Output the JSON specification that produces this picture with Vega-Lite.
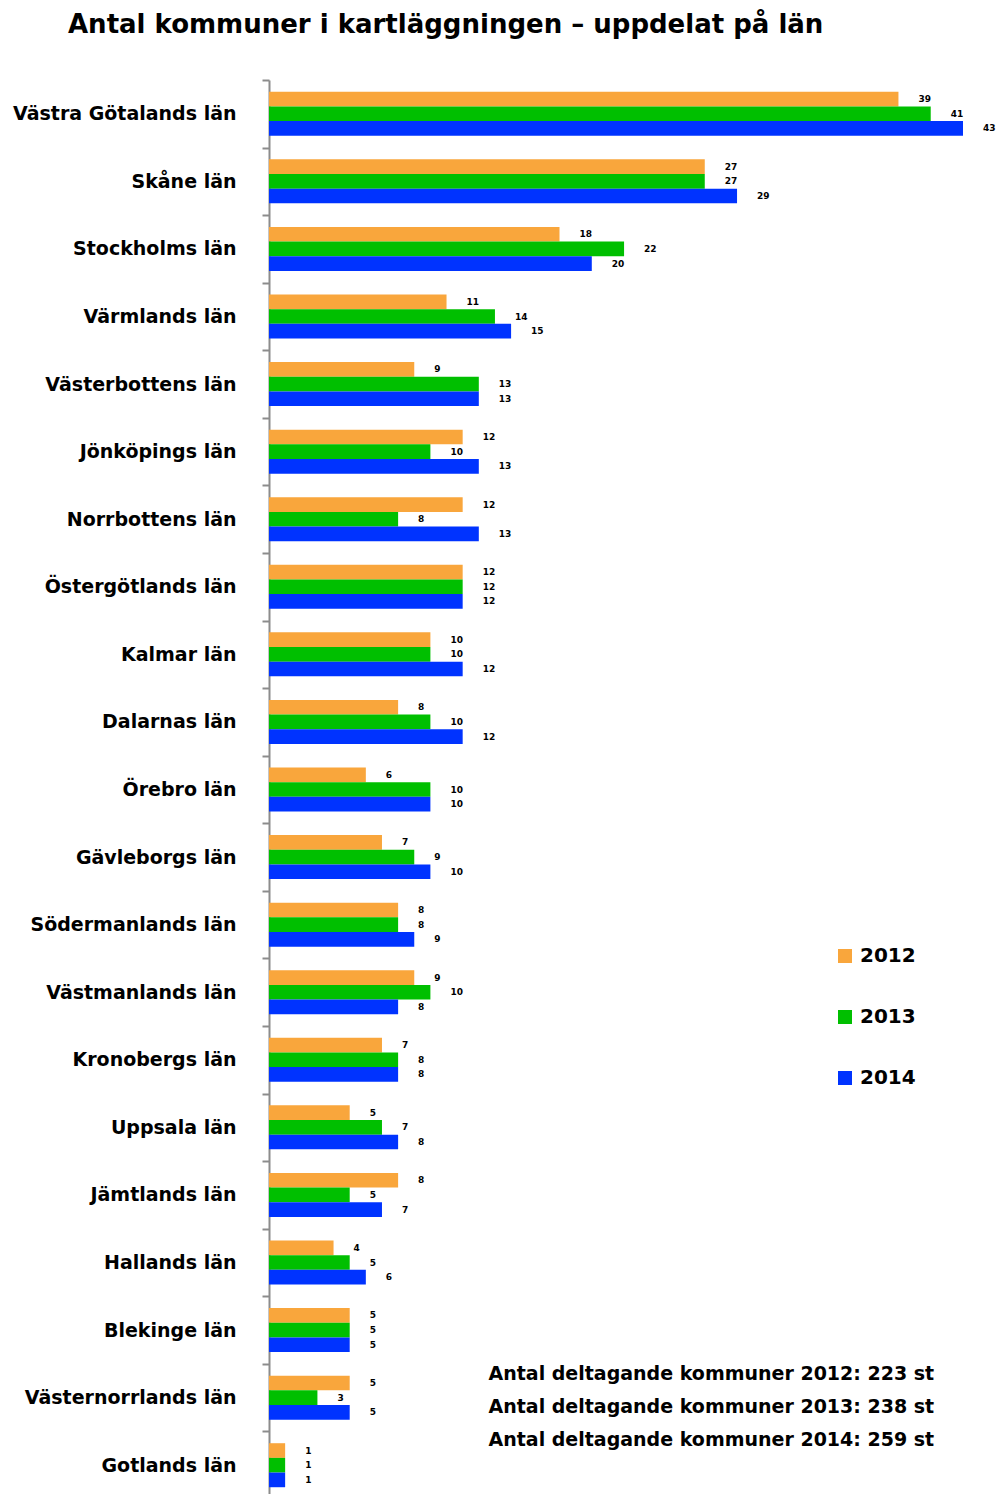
{
  "$schema": "https://vega.github.io/schema/vega-lite/v6.json",
  "autosize": {"type": "none"},
  "padding": {"left": 269, "top": 80, "right": 33, "bottom": 0},
  "width": 694,
  "height": 1419,
  "background": "white",
  "config": {
    "view": {"stroke": null},
    "font": "DejaVu Sans"
  },
  "title": {
    "text": "Antal kommuner i kartläggningen – uppdelat på län",
    "anchor": "start",
    "frame": "group",
    "dx": -201,
    "offset": 33,
    "fontSize": 26,
    "fontWeight": "bold",
    "color": "black",
    "font": "DejaVu Sans"
  },
  "datasets": {
    "main": [
      {"lan": "Västra Götalands län", "year": "2012", "n": 39},
      {"lan": "Västra Götalands län", "year": "2013", "n": 41},
      {"lan": "Västra Götalands län", "year": "2014", "n": 43},
      {"lan": "Skåne län", "year": "2012", "n": 27},
      {"lan": "Skåne län", "year": "2013", "n": 27},
      {"lan": "Skåne län", "year": "2014", "n": 29},
      {"lan": "Stockholms län", "year": "2012", "n": 18},
      {"lan": "Stockholms län", "year": "2013", "n": 22},
      {"lan": "Stockholms län", "year": "2014", "n": 20},
      {"lan": "Värmlands län", "year": "2012", "n": 11},
      {"lan": "Värmlands län", "year": "2013", "n": 14},
      {"lan": "Värmlands län", "year": "2014", "n": 15},
      {"lan": "Västerbottens län", "year": "2012", "n": 9},
      {"lan": "Västerbottens län", "year": "2013", "n": 13},
      {"lan": "Västerbottens län", "year": "2014", "n": 13},
      {"lan": "Jönköpings län", "year": "2012", "n": 12},
      {"lan": "Jönköpings län", "year": "2013", "n": 10},
      {"lan": "Jönköpings län", "year": "2014", "n": 13},
      {"lan": "Norrbottens län", "year": "2012", "n": 12},
      {"lan": "Norrbottens län", "year": "2013", "n": 8},
      {"lan": "Norrbottens län", "year": "2014", "n": 13},
      {"lan": "Östergötlands län", "year": "2012", "n": 12},
      {"lan": "Östergötlands län", "year": "2013", "n": 12},
      {"lan": "Östergötlands län", "year": "2014", "n": 12},
      {"lan": "Kalmar län", "year": "2012", "n": 10},
      {"lan": "Kalmar län", "year": "2013", "n": 10},
      {"lan": "Kalmar län", "year": "2014", "n": 12},
      {"lan": "Dalarnas län", "year": "2012", "n": 8},
      {"lan": "Dalarnas län", "year": "2013", "n": 10},
      {"lan": "Dalarnas län", "year": "2014", "n": 12},
      {"lan": "Örebro län", "year": "2012", "n": 6},
      {"lan": "Örebro län", "year": "2013", "n": 10},
      {"lan": "Örebro län", "year": "2014", "n": 10},
      {"lan": "Gävleborgs län", "year": "2012", "n": 7},
      {"lan": "Gävleborgs län", "year": "2013", "n": 9},
      {"lan": "Gävleborgs län", "year": "2014", "n": 10},
      {"lan": "Södermanlands län", "year": "2012", "n": 8},
      {"lan": "Södermanlands län", "year": "2013", "n": 8},
      {"lan": "Södermanlands län", "year": "2014", "n": 9},
      {"lan": "Västmanlands län", "year": "2012", "n": 9},
      {"lan": "Västmanlands län", "year": "2013", "n": 10},
      {"lan": "Västmanlands län", "year": "2014", "n": 8},
      {"lan": "Kronobergs län", "year": "2012", "n": 7},
      {"lan": "Kronobergs län", "year": "2013", "n": 8},
      {"lan": "Kronobergs län", "year": "2014", "n": 8},
      {"lan": "Uppsala län", "year": "2012", "n": 5},
      {"lan": "Uppsala län", "year": "2013", "n": 7},
      {"lan": "Uppsala län", "year": "2014", "n": 8},
      {"lan": "Jämtlands län", "year": "2012", "n": 8},
      {"lan": "Jämtlands län", "year": "2013", "n": 5},
      {"lan": "Jämtlands län", "year": "2014", "n": 7},
      {"lan": "Hallands län", "year": "2012", "n": 4},
      {"lan": "Hallands län", "year": "2013", "n": 5},
      {"lan": "Hallands län", "year": "2014", "n": 6},
      {"lan": "Blekinge län", "year": "2012", "n": 5},
      {"lan": "Blekinge län", "year": "2013", "n": 5},
      {"lan": "Blekinge län", "year": "2014", "n": 5},
      {"lan": "Västernorrlands län", "year": "2012", "n": 5},
      {"lan": "Västernorrlands län", "year": "2013", "n": 3},
      {"lan": "Västernorrlands län", "year": "2014", "n": 5},
      {"lan": "Gotlands län", "year": "2012", "n": 1},
      {"lan": "Gotlands län", "year": "2013", "n": 1},
      {"lan": "Gotlands län", "year": "2014", "n": 1}
    ],
    "notes": [
      {"note": "Antal deltagande kommuner 2012: 223 st\nAntal deltagande kommuner 2013: 238 st\nAntal deltagande kommuner 2014: 259 st"}
    ]
  },
  "layer": [
    {
      "data": {"name": "main"},
      "mark": {"type": "bar"},
      "encoding": {
        "y": {
          "field": "lan", "type": "nominal", "sort": null,
          "scale": {"paddingInner": 0, "paddingOuter": 0},
          "axis": {
            "title": null,
            "domainColor": "#8c8c8c", "domainWidth": 2,
            "tickColor": "#8c8c8c", "tickWidth": 2, "tickSize": 7,
            "tickBand": "extent",
            "labelFontSize": 19, "labelFontWeight": "bold", "labelColor": "black",
            "labelPadding": 26, "labelFont": "DejaVu Sans", "labelLimit": 400
          }
        },
        "yOffset": {"field": "year", "type": "nominal", "scale": {"paddingInner": 0, "paddingOuter": 0.803}},
        "x": {"field": "n", "type": "quantitative", "scale": {"domain": [0, 43], "nice": false}, "axis": null},
        "color": {
          "field": "year", "type": "nominal",
          "scale": {"domain": ["2012", "2013", "2014"], "range": ["#F9A63C", "#00BF00", "#0033FF"]},
          "legend": {
            "orient": "none", "legendX": 566, "legendY": 866,
            "title": null, "labelFontSize": 20, "labelFontWeight": "bold", "labelColor": "black",
            "labelFont": "DejaVu Sans",
            "symbolType": "square", "symbolSize": 196, "symbolStrokeWidth": 0,
            "rowPadding": 41, "labelOffset": 5
          }
        }
      }
    },
    {
      "data": {"name": "main"},
      "mark": {"type": "text", "align": "left", "baseline": "middle", "dx": 20, "fontSize": 9, "fontWeight": "bold", "color": "black", "font": "DejaVu Sans"},
      "encoding": {
        "y": {"field": "lan", "type": "nominal", "sort": null},
        "yOffset": {"field": "year", "type": "nominal"},
        "x": {"field": "n", "type": "quantitative"},
        "text": {"field": "n", "type": "quantitative"}
      }
    },
    {
      "data": {"name": "notes"},
      "mark": {"type": "text", "align": "left", "baseline": "middle", "lineBreak": "\n", "lineHeight": 33, "dy": -24, "fontSize": 19, "fontWeight": "bold", "color": "black", "font": "DejaVu Sans"},
      "encoding": {
        "x": {"datum": 13.6, "type": "quantitative"},
        "y": {"datum": "Västernorrlands län", "type": "nominal"},
        "text": {"field": "note", "type": "nominal"}
      }
    }
  ]
}
